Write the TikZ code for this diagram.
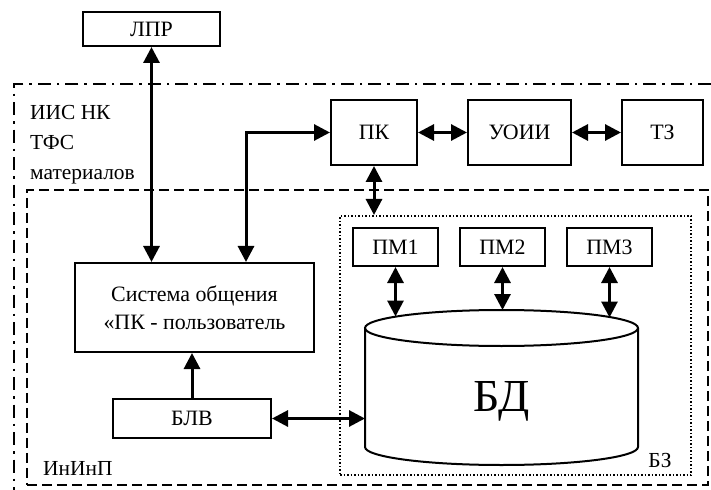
\documentclass[tikz,border=0pt]{standalone}
\usepackage{fontspec}
\setmainfont{Liberation Serif}
\usetikzlibrary{arrows.meta}

\begin{document}
\begin{tikzpicture}[x=1bp, y=-1bp]
    % Styles
    \tikzstyle{block} = [rectangle, draw=black, line width=2bp, inner sep=0pt, align=center, font=\fontsize{22}{28}\selectfont]
    \tikzstyle{link} = [{Triangle[length=16bp, width=16bp]}-{Triangle[length=16bp, width=16bp]}, line width=3bp]
    \tikzstyle{arrow} = [-{Triangle[length=16bp, width=16bp]}, line width=3bp]
    \tikzstyle{tag} = [inner sep=0pt, font=\fontsize{21.5}{30}\selectfont]

    \useasboundingbox (0,0) rectangle (711,490);

    % Frames
    \draw[line width=1.5bp, dash pattern=on 13bp off 6bp on 2.5bp off 6bp] (711,84) -- (14,84) -- (14,490);
    \node[draw, line width=2bp, dash pattern=on 10bp off 5bp, minimum width=681bp, minimum height=295bp, inner sep=0pt] (InInP) at (367.5,337.5) {};
    \node[draw, line width=2bp, dash pattern=on 1.5bp off 2bp, fill=white, minimum width=351bp, minimum height=259bp, inner sep=0pt] (BZ) at (515.5,345.5) {};
    \node[tag, anchor=west, align=left] (IIS) at (30,145) {ИИС НК\\ТФС\\материалов};
    \node[tag, anchor=west] (lblInInP) at (43,468) {ИнИнП};
    \node[tag] (lblBZ) at (660,461) {БЗ};

    % Nodes
    \node[block, minimum width=137bp, minimum height=34bp] (LPR) at (151.5,29) {ЛПР};
    \node[block, minimum width=86bp, minimum height=65bp] (PK) at (374,132.5) {ПК};
    \node[block, minimum width=103bp, minimum height=65bp] (UOII) at (519.5,132.5) {УОИИ};
    \node[block, minimum width=81bp, minimum height=65bp] (TZ) at (662.5,132.5) {ТЗ};
    \node[block, minimum width=85bp, minimum height=38bp] (PM1) at (395.5,247) {ПМ1};
    \node[block, minimum width=85bp, minimum height=38bp] (PM2) at (502.5,247) {ПМ2};
    \node[block, minimum width=85bp, minimum height=38bp] (PM3) at (609.5,247) {ПМ3};
    \node[block, minimum width=239bp, minimum height=89bp] (Sys) at (194.5,307.5) {Система общения\\«ПК - пользователь};
    \node[block, minimum width=158bp, minimum height=39bp] (BLV) at (192,418.5) {БЛВ};

    % Database cylinder
    \draw[line width=2bp] (365,328) -- (365,447) arc[start angle=180, end angle=0, x radius=136.5, y radius=18] -- (638,328);
    \draw[line width=2bp] (501.5,328) ellipse[x radius=136.5, y radius=18];
    \node[font=\fontsize{46}{50}\selectfont] (BD) at (501.5,401) {БД};
    \coordinate (top1) at (395.5,316.5);
    \coordinate (top2) at (502.5,310);
    \coordinate (top3) at (609.5,317.5);
    \coordinate (side) at (365,418.5);

    % Arrows
    \draw[link] (LPR.south) -- (LPR.south |- Sys.north);
    \draw[link] (PK.west) -| ([xshift=51.5bp]Sys.north);
    \draw[link] (PK) -- (UOII);
    \draw[link] (UOII) -- (TZ);
    \draw[link] (PK.south) -- (PK.south |- BZ.north);
    \draw[link] (PM1) -- (top1);
    \draw[link] (PM2) -- (top2);
    \draw[link] (PM3) -- (top3);
    \draw[arrow] (BLV.north) -- (BLV.north |- Sys.south);
    \draw[link] (BLV.east) -- (side);
\end{tikzpicture}
\end{document}
